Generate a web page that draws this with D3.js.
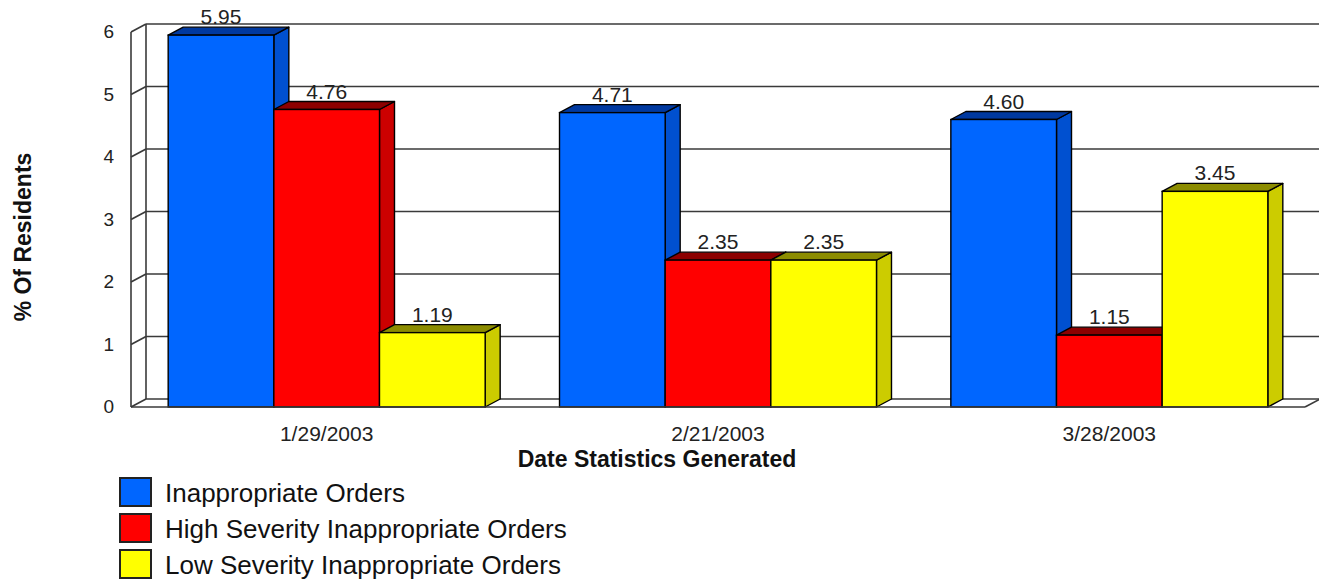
<!DOCTYPE html>
<html>
<head>
<meta charset="utf-8">
<script src="https://cdn.jsdelivr.net/npm/d3@7"></script>
<style>
  html, body { margin: 0; padding: 0; background: #ffffff; }
  svg { display: block; font-family: "Liberation Sans", Arial, sans-serif; }
</style>
</head>
<body>
<svg id="chart" width="1319" height="584"></svg>
<script>
// Chart data
const categories = ["1/29/2003", "2/21/2003", "3/28/2003"];
const seriesNames = [
  "Inappropriate Orders",
  "High Severity Inappropriate Orders",
  "Low Severity Inappropriate Orders"
];
const inappropriate = [5.95, 4.71, 4.60];
const highSeverity = [4.76, 2.35, 1.15];
const lowSeverity = [1.19, 2.35, 3.45];
const yTicks = [0, 1, 2, 3, 4, 5, 6];

const seriesValues = [inappropriate, highSeverity, lowSeverity];

// Face colours per series: front, side, top
const palette = [
  { front: "#0066ff", side: "#0050d0", top: "#0039a0" },
  { front: "#ff0000", side: "#cc0000", top: "#8c0000" },
  { front: "#ffff00", side: "#cccc00", top: "#8c8c00" }
];

const svg = d3.select("#chart");

// 3D depth offset for the pseudo-perspective
const depthX = 15, depthY = -8;

const xFrontLeft = 131, xFrontRight = 1305;
const y = d3.scaleLinear().domain([0, 6]).range([407, 32]);

const x0 = d3.scaleBand()
  .domain(categories)
  .range([xFrontLeft, xFrontRight])
  .paddingInner(0.19)
  .paddingOuter(0.095);

const x1 = d3.scaleBand()
  .domain(d3.range(seriesNames.length))
  .range([0, x0.bandwidth()])
  .padding(0);

const lineColor = "#3a3a3a";

// Back wall grid lines
const grid = svg.append("g");
grid.selectAll("line.grid")
  .data(yTicks.filter(t => t > 0))
  .join("line")
  .attr("x1", xFrontLeft + depthX)
  .attr("x2", 1330)
  .attr("y1", d => y(d) + depthY)
  .attr("y2", d => y(d) + depthY)
  .attr("stroke", lineColor)
  .attr("stroke-width", 1.6);

// Back wall left edge
grid.append("line")
  .attr("x1", xFrontLeft + depthX).attr("x2", xFrontLeft + depthX)
  .attr("y1", y(0) + depthY).attr("y2", y(6) + depthY)
  .attr("stroke", lineColor).attr("stroke-width", 1.6);

// Floor: back edge and right edge
grid.append("line")
  .attr("x1", xFrontLeft + depthX).attr("x2", 1330)
  .attr("y1", y(0) + depthY).attr("y2", y(0) + depthY)
  .attr("stroke", lineColor).attr("stroke-width", 1.6);
grid.append("line")
  .attr("x1", xFrontRight).attr("x2", xFrontRight + depthX)
  .attr("y1", y(0)).attr("y2", y(0) + depthY)
  .attr("stroke", lineColor).attr("stroke-width", 1.6);

// Tick connectors from the front axis to the back wall
grid.selectAll("line.tick")
  .data(yTicks)
  .join("line")
  .attr("x1", xFrontLeft).attr("x2", xFrontLeft + depthX)
  .attr("y1", d => y(d)).attr("y2", d => y(d) + depthY)
  .attr("stroke", lineColor).attr("stroke-width", 1.6);

// Front left axis
grid.append("line")
  .attr("x1", xFrontLeft).attr("x2", xFrontLeft)
  .attr("y1", y(0)).attr("y2", y(6))
  .attr("stroke", lineColor).attr("stroke-width", 1.6);

// Tick labels
svg.append("g").selectAll("text")
  .data(yTicks)
  .join("text")
  .attr("x", 114)
  .attr("y", d => y(d) + 1)
  .attr("text-anchor", "end")
  .attr("dominant-baseline", "middle")
  .attr("font-size", 19)
  .attr("fill", "#222")
  .text(d => d);

// Bars
const bars = svg.append("g");
categories.forEach((cat, ci) => {
  seriesValues.forEach((vals, si) => {
    const v = vals[ci];
    const left = x0(cat) + x1(si);
    const right = left + x1.bandwidth();
    const top = y(v), base = y(0);
    const c = palette[si];
    const g = bars.append("g");
    // side face
    g.append("path")
      .attr("d", `M${right},${top} L${right + depthX},${top + depthY} L${right + depthX},${base + depthY} L${right},${base} Z`)
      .attr("fill", c.side).attr("stroke", "#000").attr("stroke-width", 1.4)
      .attr("stroke-linejoin", "round");
    // top face
    g.append("path")
      .attr("d", `M${left},${top} L${left + depthX},${top + depthY} L${right + depthX},${top + depthY} L${right},${top} Z`)
      .attr("fill", c.top).attr("stroke", "#000").attr("stroke-width", 1.4)
      .attr("stroke-linejoin", "round");
    // front face
    g.append("rect")
      .attr("x", left).attr("y", top)
      .attr("width", right - left).attr("height", base - top)
      .attr("fill", c.front).attr("stroke", "#000").attr("stroke-width", 1.4);
  });
});

// Front floor edge drawn over bar bottoms
svg.append("line")
  .attr("x1", xFrontLeft).attr("x2", xFrontRight)
  .attr("y1", y(0)).attr("y2", y(0))
  .attr("stroke", lineColor).attr("stroke-width", 1.6);

// Value labels
const labels = svg.append("g");
categories.forEach((cat, ci) => {
  seriesValues.forEach((vals, si) => {
    const v = vals[ci];
    const cx = x0(cat) + x1(si) + x1.bandwidth() / 2;
    labels.append("text")
      .attr("x", cx)
      .attr("y", y(v) + depthY - 3)
      .attr("text-anchor", "middle")
      .attr("font-size", 21)
      .attr("fill", "#222")
      .text(v.toFixed(2));
  });
});

// Category labels
svg.append("g").selectAll("text")
  .data(categories)
  .join("text")
  .attr("x", d => x0(d) + x0.bandwidth() / 2)
  .attr("y", 441)
  .attr("text-anchor", "middle")
  .attr("font-size", 21)
  .attr("fill", "#222")
  .text(d => d);

// Axis titles
svg.append("text")
  .attr("x", 657).attr("y", 467)
  .attr("text-anchor", "middle")
  .attr("font-size", 23).attr("font-weight", "bold")
  .attr("fill", "#111")
  .text("Date Statistics Generated");

svg.append("text")
  .attr("transform", "translate(31,237) rotate(-90)")
  .attr("text-anchor", "middle")
  .attr("font-size", 23).attr("font-weight", "bold")
  .attr("fill", "#111")
  .text("% Of Residents");

// Legend
const legend = svg.append("g").attr("transform", "translate(120,478)");
const rows = legend.selectAll("g")
  .data(seriesNames)
  .join("g")
  .attr("transform", (d, i) => `translate(0,${i * 36})`);
rows.append("rect")
  .attr("x", 0).attr("y", 0)
  .attr("width", 31).attr("height", 28)
  .attr("fill", (d, i) => palette[i].front)
  .attr("stroke", "#222").attr("stroke-width", 2);
rows.append("text")
  .attr("x", 45).attr("y", 24)
  .attr("font-size", 26)
  .attr("fill", "#111")
  .text(d => d);
</script>
</body>
</html>
